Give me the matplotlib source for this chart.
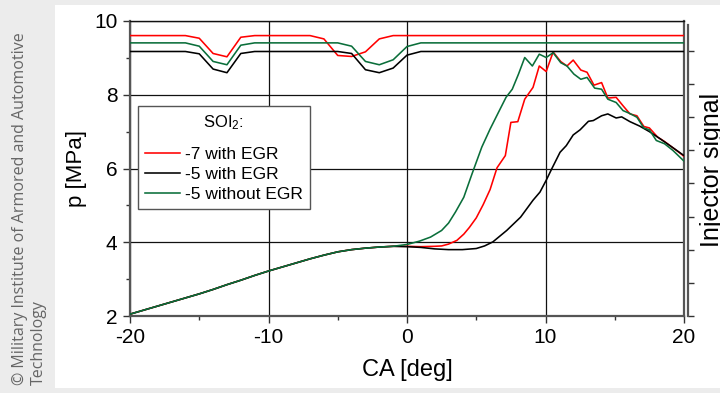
import matplotlib
matplotlib.use('Agg')
import matplotlib.pyplot as plt
from matplotlib.patches import Rectangle
from matplotlib.lines import Line2D
from matplotlib.ticker import MultipleLocator

plt.rcParams['font.family'] = ['Liberation Sans', 'DejaVu Sans']
plt.rcParams['axes.unicode_minus'] = False
plt.rcParams['mathtext.fontset'] = 'custom'
plt.rcParams['mathtext.rm'] = 'Liberation Sans'
plt.rcParams['mathtext.it'] = 'Liberation Sans'

# ---------------- data ----------------
# compression part (shared by all three cases)
ca_comp = [-20, -19, -18, -17, -16, -15, -14, -13, -12, -11, -10,
           -9, -8, -7, -6, -5, -4, -3, -2, -1]
p_comp = [2.05, 2.16, 2.27, 2.38, 2.49, 2.60, 2.72, 2.85, 2.97, 3.10, 3.22,
          3.33, 3.44, 3.55, 3.65, 3.74, 3.80, 3.84, 3.87, 3.89]

ca_red = [0, 1, 2, 2.5, 3.0, 3.6, 4.1, 4.5, 5.0, 5.5, 6.0, 6.5, 7.1, 7.5, 8.0, 8.5,
          9.1, 9.55, 10.05, 10.55, 11.1, 11.55, 12.0, 12.55, 13.0, 13.5,
          14.05, 14.5, 15.1, 15.6, 16.1, 16.6, 17.1, 17.5, 18.1, 18.6,
          19.1, 19.6, 20]
p_red = [3.89, 3.88, 3.89, 3.90, 3.95, 4.05, 4.22, 4.40, 4.66, 5.02, 5.43, 6.02,
         6.35, 7.25, 7.27, 7.88, 8.20, 8.78, 8.63, 9.16, 8.90, 8.78, 8.94,
         8.67, 8.61, 8.26, 8.33, 7.91, 7.93, 7.70, 7.48, 7.43, 7.14, 7.10,
         6.85, 6.73, 6.59, 6.45, 6.33]

ca_blk = [0, 1, 2, 3, 4, 5, 5.6, 6.2, 7.2, 8.2, 9.1, 9.6, 10.05, 10.45,
          11.05, 11.5, 12.0, 12.5, 13.1, 13.45, 14.05, 14.5, 15.1, 15.5,
          16.1, 16.8, 17.5, 18.3, 19.1, 20]
p_blk = [3.88, 3.86, 3.82, 3.80, 3.80, 3.83, 3.90, 4.01, 4.32, 4.68, 5.14,
         5.36, 5.68, 5.99, 6.44, 6.62, 6.91, 7.05, 7.28, 7.30, 7.43, 7.48,
         7.37, 7.40, 7.27, 7.15, 7.00, 6.80, 6.59, 6.35]

ca_grn = [0, 0.9, 1.7, 2.5, 3.0, 3.5, 4.1, 4.7, 5.4, 6.0, 6.6, 7.15, 7.6,
          8.05, 8.5, 9.05, 9.55, 10.05, 10.55, 11.1, 11.55, 12.05, 12.55,
          13.0, 13.55, 14.05, 14.5, 15.1, 15.6, 16.1, 16.6, 17.1, 17.5,
          18.0, 18.6, 19.2, 20]
p_grn = [3.94, 4.03, 4.14, 4.32, 4.52, 4.82, 5.22, 5.86, 6.58, 7.07, 7.52,
         7.93, 8.15, 8.56, 9.01, 8.78, 9.10, 9.01, 9.14, 8.87, 8.78, 8.56,
         8.42, 8.47, 8.18, 8.15, 7.88, 7.79, 7.57, 7.49, 7.39, 7.10, 7.05,
         6.76, 6.67, 6.49, 6.20]

# injector signal (arbitrary units, right axis)
inj_ca_red = [-20, -16, -15, -14, -13, -12, -11, -7, -6, -5, -4, -3, -2, -1, 20]
inj_red = [8.46, 8.46, 8.38, 7.92, 7.82, 8.41, 8.46, 8.46, 8.36, 7.86, 7.83,
           7.97, 8.36, 8.46, 8.46]
inj_ca_blk = [-20, -16, -15, -14, -13, -12, -11, -5, -4, -3, -2, -1, 0, 1, 20]
inj_blk = [7.98, 7.98, 7.91, 7.45, 7.34, 7.92, 7.98, 7.98, 7.92, 7.43, 7.34,
           7.48, 7.87, 7.98, 7.98]
inj_ca_grn = [-20, -16, -15, -14, -13, -12, -11, -5, -4, -3, -2, -1, 0, 1, 20]
inj_grn = [8.24, 8.24, 8.14, 7.68, 7.58, 8.17, 8.24, 8.24, 8.14, 7.68, 7.58,
           7.73, 8.13, 8.24, 8.24]

labels = ['-7 with EGR', '-5 with EGR', '-5 without EGR']
colors = ['#ff0000', '#000000', '#0a6e3a']
x_ticks = [-20, -10, 0, 10, 20]
x_ticklabels = ['-20', '-10', '0', '10', '20']
y_ticks = [2, 4, 6, 8, 10]

# ---------------- figure ----------------
fig = plt.figure(figsize=(7.2, 3.93), dpi=100)
fig.patch.set_facecolor('#ececec')
fig.add_artist(Rectangle((55 / 720, 5 / 393), 665 / 720, 383 / 393,
                         transform=fig.transFigure, facecolor='white',
                         edgecolor='none', zorder=-10))

ax = fig.add_axes([130 / 720, 77 / 393, 554 / 720, 295 / 393])
ax.set_xlim(-20, 20)
ax.set_ylim(2, 10)

lw = 1.15
series = [(ca_red, p_red), (ca_blk, p_blk), (ca_grn, p_grn)]
for (cx, py), col in zip(series, colors):
    ax.plot(ca_comp + cx, p_comp + py, color=col, lw=lw, zorder=3)

ax.set_xticks(x_ticks)
ax.set_xticklabels(x_ticklabels)
ax.set_yticks(y_ticks)
ax.xaxis.set_minor_locator(MultipleLocator(5))
ax.yaxis.set_minor_locator(MultipleLocator(1))
ax.tick_params(axis='both', which='major', direction='out', length=5,
               width=1, color='#333333', labelsize=15)
ax.tick_params(axis='both', which='minor', direction='out', length=3,
               width=1, color='#333333')
ax.tick_params(axis='x', which='major', pad=3.5)
ax.tick_params(axis='y', which='major', pad=4)
ax.grid(True, which='major', color='#111111', lw=0.9)
ax.set_axisbelow(True)

for s in ['left', 'bottom', 'right']:
    ax.spines[s].set_color('#555555')
    ax.spines[s].set_linewidth(1.6)
ax.spines['top'].set_color('#111111')
ax.spines['top'].set_linewidth(1.0)

ax.set_xlabel('CA [deg]', fontsize=17, labelpad=9)
ax.set_ylabel('p [MPa]', fontsize=16, labelpad=5)

# right axis: injector signal
ax2 = ax.twinx()
ax2.set_ylim(0, 8.9)
inj = [(inj_ca_red, inj_red), (inj_ca_blk, inj_blk), (inj_ca_grn, inj_grn)]
for (cx, v), col in zip(inj, colors):
    ax2.plot(cx, v, color=col, lw=lw)
ax2.set_yticks(range(0, 9))
ax2.set_yticklabels([])
ax2.tick_params(axis='y', direction='out', length=4, width=1, color='#333333')
for s in ['left', 'top', 'bottom']:
    ax2.spines[s].set_visible(False)
ax2.spines['right'].set_position(('outward', 3))
ax2.spines['right'].set_bounds(0, 8.79)
ax2.spines['right'].set_color('#555555')
ax2.spines['right'].set_linewidth(1.6)

# legend
handles = [Line2D([], [], color=c, lw=lw) for c in colors]
leg = ax.legend(handles, labels, loc='upper left',
                bbox_to_anchor=(138 / 720, 287 / 393),
                bbox_transform=fig.transFigure,
                fontsize=12.5, title='SOI$_{\\mathregular{2}}$:\n',
                title_fontsize=12, frameon=True, fancybox=False,
                edgecolor='#555555', framealpha=1, handlelength=2.0,
                handletextpad=0.3, labelspacing=0.28, borderpad=0.4,
                borderaxespad=0)
leg.get_frame().set_linewidth(1.0)
leg.get_title().set_linespacing(0.6)

# texts outside the axes
fig.text(700 / 720, (393 - 170) / 393, 'Injector signal', rotation=90,
         fontsize=18, ha='left', va='center')
fig.text(12 / 720, 8 / 393,
         '\u00a9 Military Institute of Armored and Automotive\nTechnology',
         rotation=90, ha='left', va='bottom', multialignment='left',
         fontsize=11.5, color='#666666', family=['Open Sans', 'DejaVu Sans'],
         linespacing=1.2)

fig.savefig('out.png', dpi=100, facecolor=fig.get_facecolor())
